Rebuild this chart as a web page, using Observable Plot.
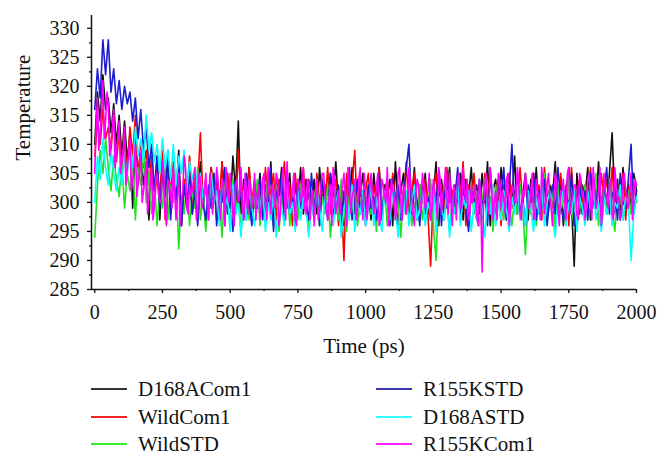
<!DOCTYPE html>
<html>
<head>
<meta charset="utf-8">
<script src="https://cdn.jsdelivr.net/npm/d3@7"></script>
<script src="https://cdn.jsdelivr.net/npm/@observablehq/plot@0.6"></script>
<style>
  html, body { margin: 0; padding: 0; background: #fff; }
  #wrap { width: 670px; height: 465px; position: relative; font-family: "Liberation Serif", "DejaVu Serif", serif; }
  #chart svg { display: block; }
  #legend { position: relative; width: 670px; height: 95px; overflow: hidden; }
  .item { position: absolute; height: 28px; display: flex; align-items: center; font-size: 21px; color: #111; white-space: nowrap; }
  .swatch { width: 36px; height: 2px; margin-right: 11px; }
</style>
</head>
<body>
<div id="wrap">
  <div id="chart"></div>
  <div id="legend"></div>
</div>
<script>
// Time axis: one sample every 10 ps, 0..2000
const times = d3.range(0, 2001, 10);
// R155KCom1 is also read at the in-between 5 ps points (5, 15, ..., 1995)
const timesHalf = d3.range(5, 2000, 10);

const seriesNames = ["D168ACom1", "WildCom1", "WildSTD", "R155KSTD", "D168ASTD", "R155KCom1"];
const seriesColors = ["#111111", "#ff0000", "#22e022", "#1c1cd0", "#00ffff", "#ff00ff"];
const legendColors = ["#333333", "#ee2222", "#33ee33", "#3a3aaa", "#33ffff", "#ff22ff"];

const xTicks = [0, 250, 500, 750, 1000, 1250, 1500, 1750, 2000];
const yTicks = [285, 290, 295, 300, 305, 310, 315, 320, 325, 330];

const D168ACom1 = [
310,319,314,322,316,318,312,317,310,315,308,314,307,312,299,311,305,309,303,307,297,
306,300,308,297,305,302,307,299,304,301,309,296,303,300,306,298,305,301,307,299,
303,298,306,300,304,297,307,301,305,299,308,302,314,298,304,301,306,297,303,300,
305,298,303,300,307,296,304,301,306,299,302,305,297,303,300,306,298,304,301,299,
304,298,306,300,303,297,305,301,307,299,302,296,304,300,306,298,303,301,305,299,
302,297,305,300,306,298,303,301,304,296,307,299,302,305,298,304,300,306,297,303,
300,305,298,303,301,307,296,304,299,302,306,298,303,300,305,297,304,301,306,299,
303,298,305,300,307,296,302,304,299,306,301,297,304,300,308,298,303,301,305,297,
304,300,306,298,302,305,297,303,301,307,299,304,296,302,306,300,289,305,298,303,
301,306,297,304,300,307,299,303,298,305,312,300,304,297,306,301,303,299,305,302];

const WildCom1 = [
308,314,310,316,311,313,309,315,307,312,306,311,305,313,308,315,304,310,306,309,303,
308,299,306,301,309,297,305,302,307,300,306,298,304,301,308,299,305,303,312,300,
304,297,306,301,303,299,307,296,305,300,304,298,309,301,303,297,306,300,304,299,
303,298,306,300,302,305,297,304,301,307,299,303,296,305,300,302,306,298,304,301,
297,305,300,303,299,306,298,302,304,296,301,290,305,300,303,309,297,304,300,302,
305,298,303,300,306,297,302,304,299,305,301,296,303,300,307,298,302,305,299,303,
300,304,298,289,302,305,299,303,297,306,300,302,298,304,301,307,296,303,300,305,
299,303,297,305,300,306,298,302,304,296,303,301,305,299,302,298,306,300,304,301,
298,305,300,303,297,306,301,302,299,304,298,305,300,303,296,306,299,302,304,300,
303,298,306,300,302,297,305,301,304,299,306,298,302,300,305,297,303,301,304,300];

const WildSTD = [
294,303,309,305,311,306,302,308,304,301,307,299,305,302,308,297,306,303,309,300,305,
298,304,296,302,299,306,297,303,300,305,292,301,298,304,296,302,299,306,297,301,
295,302,299,305,297,301,294,303,300,296,304,298,302,295,300,303,297,301,299,304,
296,302,299,305,297,300,303,295,301,298,304,296,302,300,297,303,299,301,295,302,
299,304,296,301,298,303,294,300,302,297,304,299,295,301,298,303,296,300,302,297,
303,298,301,295,304,299,302,296,300,303,297,301,294,302,299,304,296,300,298,303,
297,301,299,304,296,290,302,298,303,300,295,301,299,304,297,302,300,296,303,298,
302,296,300,304,298,301,295,303,299,302,297,304,300,296,301,298,303,299,291,301,
298,303,296,301,299,305,297,300,302,295,303,298,301,297,304,299,296,302,300,298,
303,297,301,299,305,296,300,302,298,304,299,295,301,303,297,300,302,298,304,300];

const R155KSTD = [
316,323,318,328,322,328,319,323,317,321,316,320,317,319,314,318,311,316,309,313,306,
310,302,308,299,306,301,309,297,304,300,307,296,303,299,305,298,302,296,304,300,
297,303,299,305,296,302,300,306,298,301,295,304,299,302,297,305,300,296,303,299,
304,297,301,299,306,295,302,300,305,297,303,298,301,296,304,299,302,300,297,305,
299,302,296,304,300,298,305,297,301,303,295,302,299,306,297,300,304,298,302,296,
303,299,301,297,305,298,302,300,296,304,299,303,297,301,306,310,298,302,300,296,
304,298,301,297,303,300,305,296,302,299,304,298,301,306,297,303,299,295,302,300,
297,304,299,302,296,305,300,298,303,301,306,297,302,310,299,304,298,301,296,303,
300,305,297,302,299,304,296,301,303,298,306,300,297,302,299,305,296,301,303,298,
302,297,305,300,299,304,296,302,306,298,301,303,297,305,300,299,304,310,298,302];

const D168ASTD = [
300,308,304,311,306,303,309,305,302,306,303,308,305,310,306,313,308,311,307,315,309,
312,307,310,305,311,306,309,304,310,303,308,305,309,302,307,304,306,301,305,300,
303,298,305,300,302,296,304,299,301,295,303,298,300,294,302,297,304,299,296,301,
298,303,295,300,297,302,294,301,299,296,303,298,300,295,302,297,301,299,294,300,
297,302,299,295,301,298,303,296,300,302,294,299,301,297,303,295,300,298,302,296,
299,303,296,301,298,295,302,300,297,303,299,294,301,298,302,296,300,303,297,299,
302,296,300,298,303,295,301,299,297,302,294,300,298,303,296,301,299,302,295,300,
297,302,299,294,301,298,303,296,300,297,302,299,295,301,298,303,297,300,296,302,
299,295,301,298,303,296,300,302,297,294,301,299,303,296,300,298,302,295,301,299,
296,302,299,303,297,300,295,301,298,302,296,300,299,303,297,301,300,290,298,301];

const R155KCom1 = [
305,318,312,321,314,317,310,316,309,314,307,313,306,311,304,310,303,309,302,307,301,
306,299,305,300,307,298,304,301,306,297,305,300,308,299,303,302,306,298,304,300,
305,297,303,301,306,299,304,296,302,305,298,303,300,306,297,302,304,299,305,301,
297,304,300,306,298,302,305,296,303,301,307,299,302,297,304,300,306,298,303,301,
296,304,299,305,301,297,303,306,298,302,300,305,296,303,301,304,299,306,297,302,
300,305,298,303,296,304,301,306,299,302,297,305,300,303,298,306,301,296,304,300,
305,299,302,297,304,300,306,298,303,301,305,296,302,304,299,306,300,297,303,301,
298,304,288,303,300,306,297,302,305,299,301,304,296,303,300,306,298,302,305,299,
302,297,304,300,306,298,303,301,296,305,299,302,304,297,306,300,303,298,305,301,
297,304,300,306,299,302,296,305,301,303,298,306,300,297,304,302,299,305,301,303];

const R155KCom1Half = [
313,309,316,311,319,308,313,306,311,305,309,303,308,302,306,301,305,300,304,298,
303,297,304,302,300,305,296,303,299,302,301,296,302,306,298,301,304,297,305,299,
302,300,305,298,301,304,297,303,306,300,302,296,304,301,299,305,298,303,300,297,
303,299,305,297,301,303,299,304,298,306,297,302,300,305,296,303,301,299,304,297,
302,300,297,303,305,299,301,296,304,300,298,303,301,306,298,302,297,304,300,305,
297,302,301,299,305,297,303,300,296,304,301,299,306,297,302,300,304,298,301,303,
298,303,300,305,299,302,297,304,301,306,298,300,303,297,305,299,302,304,298,300,
303,296,301,299,305,298,303,300,297,304,302,298,305,299,302,300,304,297,301,303,
299,305,298,302,297,303,300,305,299,301,304,296,302,300,305,298,301,303,297,304,
301,299,305,297,303,300,306,298,302,299,304,297,303,301,298,305,300,302,297,304];

const seriesValues = [D168ACom1, WildCom1, WildSTD, R155KSTD, D168ASTD, R155KCom1];

const rows = [];
seriesNames.forEach((name, i) => {
  const pts = seriesValues[i].map((v, j) => ({series: name, t: times[j], temp: v}));
  if (name === "R155KCom1") {
    R155KCom1Half.forEach((v, j) => pts.push({series: name, t: timesHalf[j], temp: v}));
    pts.sort((a, b) => a.t - b.t);
  }
  rows.push(...pts);
});

const xMinor = xTicks.slice(0, -1).map(d => d + 125);
const yMinor = yTicks.map(d => d + 2.5);
const fmt = d => String(d);

const chart = Plot.plot({
  width: 670,
  height: 370,
  marginTop: 15,
  marginBottom: 81,
  marginLeft: 91,
  marginRight: 34,
  style: {fontFamily: "'Liberation Serif', serif", fontSize: "20px", color: "#111", background: "#fff", overflow: "visible"},
  x: {domain: [-12, 2000]},
  y: {domain: [285, 332.2]},
  color: {domain: seriesNames, range: seriesColors},
  marks: [
    Plot.line(rows, {x: "t", y: "temp", z: "series", stroke: "series", strokeWidth: 1.6}),
    Plot.ruleX([-12], {stroke: "#111", strokeWidth: 1.5}),
    Plot.ruleY([285], {stroke: "#111", strokeWidth: 1.5}),
    Plot.axisX({ticks: xTicks, tickSize: 4, tickPadding: 11, fontSize: 20, tickFormat: fmt, label: null, strokeWidth: 1.3}),
    Plot.axisX({ticks: xMinor, tickSize: 2, tickFormat: () => "", label: null, strokeWidth: 1.3}),
    Plot.axisY({ticks: yTicks, tickSize: 4, tickPadding: 8, fontSize: 20, tickFormat: fmt, label: null, strokeWidth: 1.3}),
    Plot.axisY({ticks: yMinor.filter(d => d < 332), tickSize: 2, tickFormat: () => "", label: null, strokeWidth: 1.3}),
    Plot.text(["Time (ps)"], {frameAnchor: "bottom", dy: 57, fontSize: 21, lineAnchor: "middle", fill: "#111"}),
    Plot.text(["Temperature"], {frameAnchor: "left", dx: -68, dy: 8, rotate: -90, fontSize: 21, lineAnchor: "middle", fill: "#111"})
  ]
});
document.getElementById("chart").appendChild(chart);

// Legend (two columns, column-major order)
const legend = document.getElementById("legend");
const colX = [91, 376];
const rowY = [5, 33, 60];
seriesNames.forEach((name, i) => {
  const col = Math.floor(i / 3), row = i % 3;
  const item = document.createElement("div");
  item.className = "item";
  item.style.left = colX[col] + "px";
  item.style.top = rowY[row] + "px";
  const sw = document.createElement("span");
  sw.className = "swatch";
  sw.style.background = legendColors[i];
  const tx = document.createElement("span");
  tx.textContent = name;
  item.appendChild(sw);
  item.appendChild(tx);
  legend.appendChild(item);
});
</script>
</body>
</html>
